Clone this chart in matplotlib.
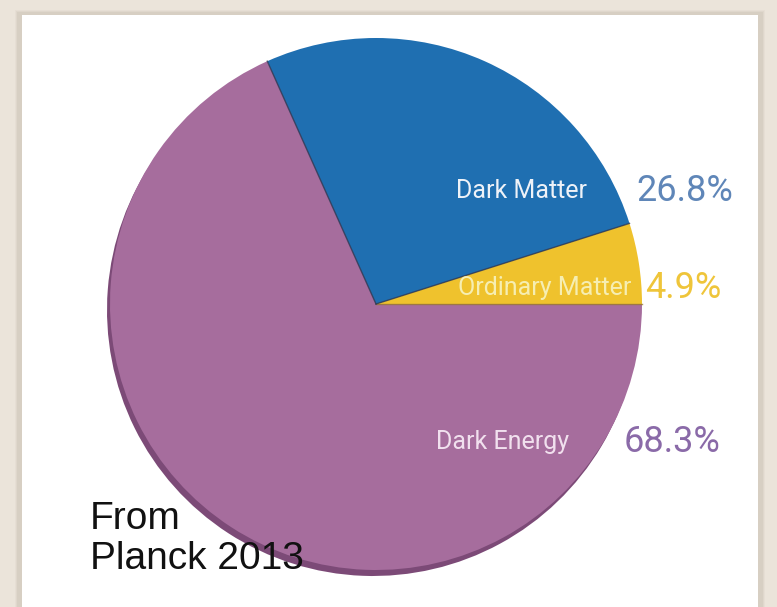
import numpy as np
import matplotlib.pyplot as plt
from matplotlib.patches import Rectangle

# Planck 2013 energy budget of the universe
componentes = ['Ordinary Matter', 'Dark Matter', 'Dark Energy']
porcentajes = [4.9, 26.8, 68.3]
colores = ['#efc22d', '#1f6fb1', '#a66d9d']
colores_valor = ['#efc53a', '#5f86b8', '#8a6aa8']
colores_nombre = ['#f6eeb2', '#eef2f8', '#f1e0ee']

fig = plt.figure(figsize=(7.77, 6.07), dpi=100)
fig.patch.set_facecolor('#ebe4da')
ax = fig.add_axes([0, 0, 1, 1])

# white panel with a soft shadow
for i, a in enumerate([0.05, 0.07, 0.09]):
    d = 6 - 2 * i
    ax.add_patch(Rectangle((18 - d / 2, -10), 744 + d, 604 + d / 2,
                           facecolor='#8a7f70', alpha=a, edgecolor='none', zorder=1))
ax.add_patch(Rectangle((22, -10), 736, 602, facecolor='white', edgecolor='none', zorder=2))

centro = (376, 303)
radio = 266

# shadow under the pie
ax.pie(porcentajes, colors=['#7c4a77'] * 3, startangle=0, counterclock=True,
       center=(centro[0] - 3, centro[1] - 6), radius=radio,
       wedgeprops=dict(linewidth=0, zorder=3))
wedges, _ = ax.pie(porcentajes, colors=colores, startangle=0, counterclock=True,
                   center=centro, radius=radio,
                   wedgeprops=dict(linewidth=0))
for w in wedges:
    w.set_zorder(4)

# dark seams between the slices
acumulado = np.cumsum([0] + porcentajes[:-1])
for k, p in enumerate(acumulado):
    ang = np.deg2rad(p * 3.6)
    ax.plot([centro[0], centro[0] + radio * np.cos(ang)],
            [centro[1], centro[1] + radio * np.sin(ang)],
            color='#2d3a55' if k > 0 else '#9a7a30', lw=1.0, alpha=0.8, zorder=5)

ax.set_xlim(0, 777)
ax.set_ylim(0, 607)
ax.set_aspect('auto')
ax.axis('off')

fuente = ['Roboto', 'DejaVu Sans']
pos_nombre = [(545, 319), (522, 416), (503, 165)]
pos_valor = [(645, 319), (636, 416), (624, 165)]
for i in range(3):
    ax.text(*pos_nombre[i], componentes[i], color=colores_nombre[i], fontsize=18,
            family=fuente, ha='center', va='center', zorder=6)
    ax.text(*pos_valor[i], f'{porcentajes[i]}%', color=colores_valor[i], fontsize=26,
            family=fuente, ha='left', va='center', zorder=6)

ax.text(90, 30, 'From\nPlanck 2013', color='#111111', fontsize=28,
        family=['Liberation Sans', 'DejaVu Sans'], ha='left', va='bottom',
        linespacing=1.15, zorder=6)

fig.savefig('out.png', dpi=100, facecolor=fig.get_facecolor())
